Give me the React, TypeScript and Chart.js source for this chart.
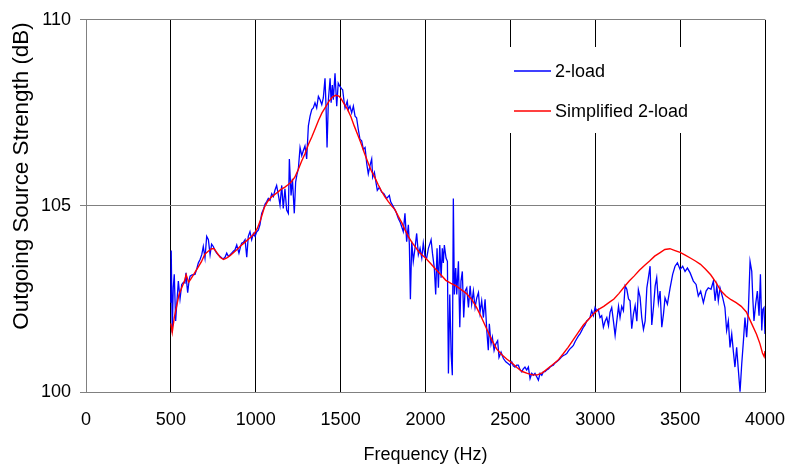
import React, { useEffect, useRef } from "react";
import { Chart, registerables } from "chart.js";

Chart.register(...registerables);

const X_TICKS = [0, 500, 1000, 1500, 2000, 2500, 3000, 3500, 4000];
const Y_TICKS = [100, 105, 110];
const SERIES_NAMES = ["2-load", "Simplified 2-load"];
const X_TITLE = "Frequency (Hz)";
const Y_TITLE = "Outgoing Source Strength (dB)";

// [frequency Hz, dB]
const TWO_LOAD: [number, number][] = [
  [500, 102.4], [502, 103.8], [508, 101.6], [514, 102.8], [520, 103.16], [528, 101.91], [536, 102.45],
  [544, 102.98], [554, 102.5], [564, 102.89], [574, 102.95], [583, 102.93], [589, 103.2], [595, 102.85],
  [599, 102.67], [606, 102.95], [613, 103.11], [625, 103.15], [642, 103.16], [652, 103.3], [662, 103.47],
  [672, 103.56], [682, 103.69], [691, 103.91], [701, 103.6], [711, 104.18], [721, 104.09], [731, 103.69],
  [740, 103.97], [750, 103.91], [760, 103.8], [770, 103.73], [780, 103.68], [790, 103.64], [800, 103.6],
  [809, 103.58], [819, 103.62], [829, 103.73], [839, 103.64], [848, 103.68], [858, 103.73], [868, 103.78],
  [878, 103.82], [888, 103.95], [901, 103.73], [910, 103.9], [917, 104.0], [927, 104.02], [937, 104.09],
  [947, 103.62], [956, 104.18], [966, 104.31], [976, 104.09], [986, 104.26], [996, 104.18], [1005, 104.3],
  [1015, 104.35], [1025, 104.5], [1035, 104.8], [1045, 104.9], [1055, 105.05], [1064, 105.11], [1074, 105.2],
  [1084, 105.15], [1094, 105.33], [1104, 105.25], [1113, 105.42], [1123, 105.55], [1133, 105.3], [1143, 105.02],
  [1153, 105.55], [1162, 104.93], [1172, 105.46], [1182, 104.89], [1192, 104.8], [1198, 106.26], [1208, 105.28],
  [1216, 105.73], [1227, 104.8], [1235, 105.64], [1243, 105.85], [1251, 106.0], [1261, 106.57], [1271, 106.35],
  [1280, 106.48], [1290, 106.61], [1300, 106.26], [1310, 107.15], [1320, 107.41], [1330, 107.59], [1339, 107.63],
  [1349, 107.77], [1359, 107.63], [1369, 107.94], [1379, 107.85], [1389, 107.72], [1398, 107.9], [1408, 108.43],
  [1414, 107.68], [1420, 106.57], [1428, 107.85], [1438, 108.43], [1444, 107.77], [1451, 108.25], [1457, 107.85],
  [1467, 108.56], [1477, 107.68], [1486, 108.3], [1496, 108.21], [1505, 108.15], [1512, 108.12], [1520, 107.81],
  [1526, 107.63], [1539, 107.81], [1545, 107.59], [1555, 107.68], [1565, 107.5], [1575, 107.68], [1585, 107.41],
  [1594, 107.37], [1604, 107.06], [1614, 106.79], [1624, 106.75], [1634, 106.52], [1644, 106.57], [1654, 106.13],
  [1663, 105.86], [1673, 106.08], [1683, 106.26], [1689, 105.77], [1699, 105.9], [1708, 105.64], [1716, 105.42],
  [1728, 105.5], [1742, 105.37], [1755, 105.33], [1771, 105.2], [1787, 105.28], [1795, 105.11], [1810, 104.98],
  [1826, 104.84], [1840, 104.66], [1850, 104.57], [1860, 104.44], [1869, 104.31], [1879, 104.8], [1889, 104.04],
  [1899, 104.49], [1905, 103.95], [1911, 102.49], [1919, 104.04], [1928, 103.51], [1938, 103.86], [1948, 104.26],
  [1958, 103.69], [1968, 103.86], [1978, 103.6], [1987, 104.0], [1997, 103.64], [2007, 103.6], [2017, 103.86],
  [2027, 104.0], [2033, 104.09], [2041, 103.73], [2052, 103.33], [2060, 102.62], [2068, 103.86], [2076, 102.8],
  [2084, 103.95], [2092, 103.07], [2099, 103.86], [2105, 103.47], [2111, 103.95], [2121, 103.6], [2129, 103.51],
  [2135, 100.5], [2143, 102.62], [2151, 101.03], [2158, 100.45], [2164, 105.2], [2170, 102.62], [2178, 103.33],
  [2184, 102.62], [2194, 103.51], [2202, 101.74], [2209, 102.98], [2217, 103.24], [2225, 102.0], [2233, 102.71],
  [2243, 102.8], [2253, 102.27], [2263, 102.85], [2272, 102.36], [2282, 102.71], [2292, 102.27], [2302, 102.53],
  [2312, 102.67], [2321, 102.14], [2331, 102.45], [2341, 102.0], [2351, 102.49], [2361, 101.65], [2370, 101.12],
  [2376, 101.83], [2386, 101.29], [2394, 101.47], [2404, 101.12], [2414, 101.29], [2425, 101.38], [2433, 100.93],
  [2445, 101.07], [2459, 100.9], [2473, 100.81], [2488, 100.76], [2498, 100.72], [2508, 100.81], [2517, 100.7],
  [2527, 100.67], [2537, 100.72], [2547, 100.72], [2557, 100.6], [2567, 100.54], [2576, 100.62], [2586, 100.67],
  [2596, 100.59], [2606, 100.67], [2616, 100.36], [2626, 100.5], [2635, 100.45], [2645, 100.5], [2655, 100.41],
  [2665, 100.32], [2675, 100.5], [2685, 100.45], [2694, 100.54], [2704, 100.55], [2714, 100.59], [2724, 100.62],
  [2734, 100.67], [2743, 100.7], [2753, 100.72], [2763, 100.78], [2773, 100.81], [2783, 100.85], [2793, 100.9],
  [2803, 100.95], [2812, 100.98], [2822, 101.0], [2832, 101.03], [2841, 101.1], [2851, 101.16], [2861, 101.2],
  [2871, 101.25], [2881, 101.35], [2891, 101.43], [2900, 101.5], [2910, 101.56], [2920, 101.65], [2930, 101.74],
  [2940, 101.8], [2950, 101.91], [2960, 101.95], [2969, 102.0], [2979, 102.18], [2989, 102.05], [2999, 102.27],
  [3009, 102.18], [3018, 102.22], [3028, 102.0], [3038, 102.05], [3048, 101.74], [3058, 101.9], [3068, 102.0],
  [3078, 101.78], [3087, 102.14], [3097, 102.27], [3107, 101.91], [3117, 101.52], [3127, 101.91], [3137, 102.3],
  [3146, 102.0], [3156, 102.3], [3166, 102.18], [3176, 102.85], [3186, 102.76], [3196, 102.5], [3205, 102.45],
  [3215, 101.7], [3225, 102.09], [3235, 102.32], [3245, 101.9], [3254, 102.75], [3264, 102.55], [3274, 102.0],
  [3284, 101.68], [3294, 101.91], [3304, 102.8], [3313, 103.07], [3323, 103.38], [3333, 101.8], [3343, 102.27],
  [3353, 102.85], [3362, 103.07], [3372, 102.4], [3382, 102.71], [3392, 101.74], [3402, 102.1], [3411, 102.53],
  [3425, 102.36], [3441, 102.8], [3456, 103.16], [3470, 103.38], [3484, 103.47], [3500, 103.29], [3515, 103.38],
  [3529, 103.24], [3543, 103.33], [3559, 103.2], [3578, 102.98], [3594, 102.89], [3607, 102.58], [3621, 102.71],
  [3637, 102.4], [3653, 102.71], [3666, 102.8], [3682, 102.76], [3696, 102.98], [3706, 102.45], [3716, 102.85],
  [3725, 102.45], [3735, 102.8], [3751, 102.53], [3764, 102.27], [3774, 101.65], [3784, 101.91], [3794, 101.2],
  [3804, 101.56], [3814, 101.07], [3823, 100.67], [3833, 101.2], [3843, 100.59], [3853, 100.01], [3863, 100.76],
  [3873, 101.38], [3882, 102.0], [3892, 101.47], [3902, 102.18], [3912, 103.51], [3922, 103.24], [3928, 102.53],
  [3935, 101.91], [3945, 102.36], [3955, 102.71], [3965, 102.05], [3973, 103.16], [3981, 101.65], [3987, 102.22],
  [3994, 102.27], [4000, 101.56],
];

const SIMPLIFIED: [number, number][] = [
  [500, 101.84], [508, 101.6], [520, 102.0], [534, 102.31], [548, 102.62], [564, 102.8], [580, 102.98],
  [590, 103.15], [605, 102.95], [620, 103.05], [640, 103.2], [660, 103.35], [680, 103.5], [700, 103.7],
  [720, 103.78], [740, 103.85], [755, 103.85], [770, 103.75], [790, 103.62], [810, 103.56], [830, 103.6],
  [850, 103.67], [870, 103.75], [890, 103.83], [910, 103.92], [930, 104.0], [950, 104.08], [970, 104.16],
  [990, 104.25], [1010, 104.4], [1030, 104.65], [1050, 104.95], [1070, 105.12], [1090, 105.23], [1110, 105.3],
  [1130, 105.37], [1150, 105.45], [1170, 105.5], [1190, 105.57], [1210, 105.65], [1230, 105.77], [1250, 105.97],
  [1270, 106.2], [1290, 106.4], [1310, 106.65], [1330, 106.85], [1350, 107.07], [1370, 107.3], [1390, 107.5],
  [1410, 107.65], [1430, 107.8], [1450, 107.92], [1470, 107.97], [1490, 107.95], [1500, 107.9], [1520, 107.75],
  [1540, 107.6], [1560, 107.4], [1580, 107.15], [1600, 106.92], [1620, 106.68], [1640, 106.42], [1660, 106.18],
  [1680, 105.95], [1700, 105.78], [1720, 105.58], [1740, 105.4], [1760, 105.25], [1780, 105.12], [1800, 105.0],
  [1820, 104.9], [1840, 104.72], [1860, 104.55], [1880, 104.35], [1900, 104.17], [1920, 104.02], [1940, 103.9],
  [1960, 103.77], [1980, 103.68], [2000, 103.6], [2030, 103.45], [2060, 103.3], [2090, 103.15], [2120, 103.0],
  [2150, 102.92], [2180, 102.85], [2210, 102.75], [2240, 102.65], [2270, 102.5], [2300, 102.28], [2330, 102.0],
  [2360, 101.7], [2390, 101.4], [2420, 101.15], [2450, 101.0], [2480, 100.88], [2510, 100.78], [2540, 100.65],
  [2570, 100.55], [2600, 100.5], [2630, 100.46], [2660, 100.46], [2690, 100.52], [2720, 100.63], [2750, 100.74],
  [2780, 100.85], [2810, 101.02], [2840, 101.2], [2870, 101.4], [2900, 101.6], [2930, 101.8], [2960, 101.95],
  [2990, 102.1], [3020, 102.22], [3050, 102.3], [3080, 102.4], [3110, 102.5], [3140, 102.65], [3170, 102.82],
  [3200, 102.98], [3230, 103.12], [3260, 103.27], [3290, 103.4], [3320, 103.52], [3350, 103.65], [3380, 103.74],
  [3410, 103.83], [3440, 103.85], [3470, 103.8], [3500, 103.75], [3530, 103.68], [3560, 103.6], [3590, 103.52],
  [3620, 103.43], [3650, 103.3], [3680, 103.15], [3710, 102.95], [3740, 102.72], [3770, 102.58], [3800, 102.48],
  [3830, 102.4], [3860, 102.3], [3890, 102.15], [3920, 101.85], [3950, 101.55], [3970, 101.3], [3985, 101.05],
  [3995, 100.95], [4000, 101.1],
];

const COLORS = ["#0000FF", "#FF0000"];
const FONT = "'Liberation Sans', Arial, sans-serif";

export default function App() {
  const ref = useRef<HTMLCanvasElement>(null);

  useEffect(() => {
    document.body.style.margin = "0";
    const canvas = ref.current;
    if (!canvas) return;

    const overlay = {
      id: "overlay",
      afterDraw(chart: any) {
        const ctx = chart.ctx as CanvasRenderingContext2D;
        const area = chart.chartArea;
        ctx.save();
        // y axis title
        ctx.fillStyle = "#000";
        ctx.font = `22.4px ${FONT}`;
        ctx.textAlign = "center";
        ctx.textBaseline = "middle";
        ctx.translate(22, 176);
        ctx.rotate(-Math.PI / 2);
        ctx.fillText(Y_TITLE, 0, 0);
        ctx.restore();

        ctx.save();
        ctx.fillStyle = "#000";
        ctx.font = `18px ${FONT}`;
        ctx.textAlign = "center";
        ctx.textBaseline = "middle";
        ctx.fillText(X_TITLE, (area.left + area.right) / 2, 455);
        ctx.restore();

        // legend
        ctx.save();
        ctx.fillStyle = "#FFFFFF";
        ctx.fillRect(505, 47, 196, 86);
        ctx.font = `18px ${FONT}`;
        ctx.textAlign = "left";
        ctx.textBaseline = "middle";
        const rows = [71, 111];
        SERIES_NAMES.forEach((name, i) => {
          ctx.strokeStyle = COLORS[i];
          ctx.lineWidth = 1.3;
          ctx.beginPath();
          ctx.moveTo(514, rows[i]);
          ctx.lineTo(551, rows[i]);
          ctx.stroke();
          ctx.fillStyle = "#000";
          ctx.fillText(name, 555, rows[i] + 1);
        });
        ctx.restore();
      },
    };

    const chart = new Chart(canvas, {
      type: "line",
      data: {
        datasets: [
          {
            label: SERIES_NAMES[0],
            data: TWO_LOAD.map(([x, y]) => ({ x, y })),
            borderColor: COLORS[0],
            borderWidth: 1.3,
            pointRadius: 0,
            tension: 0,
            order: 2,
          },
          {
            label: SERIES_NAMES[1],
            data: SIMPLIFIED.map(([x, y]) => ({ x, y })),
            borderColor: COLORS[1],
            borderWidth: 1.4,
            pointRadius: 0,
            tension: 0,
            order: 1,
          },
        ],
      },
      options: {
        responsive: false,
        animation: false,
        devicePixelRatio: 1,
        layout: { padding: { left: 0, right: 0, top: 16, bottom: 0 } },
        plugins: { legend: { display: false }, tooltip: { enabled: false } },
        scales: {
          x: {
            type: "linear",
            min: X_TICKS[0],
            max: X_TICKS[X_TICKS.length - 1],
            afterBuildTicks: (scale: any) => {
              scale.ticks = X_TICKS.map((v) => ({ value: v }));
            },
            afterFit: (scale: any) => {
              scale.height = 75;
              scale.paddingRight = 20;
              scale.paddingLeft = 0;
            },
            grid: {
              color: (c: any) => (c.tick && c.tick.value === 0 ? "#808080" : "#000000"),
              lineWidth: 1,
              drawTicks: false,
            },
            border: { display: true, color: "#808080", width: 1 },
            ticks: {
              color: "#000",
              font: { family: FONT, size: 18 },
              padding: 17,
              maxRotation: 0,
              autoSkip: false,
              callback: (v: any) => String(v),
            },
          },
          y: {
            type: "linear",
            min: Y_TICKS[0],
            max: Y_TICKS[Y_TICKS.length - 1],
            afterBuildTicks: (scale: any) => {
              scale.ticks = Y_TICKS.map((v) => ({ value: v }));
            },
            afterFit: (scale: any) => {
              scale.width = 86;
            },
            grid: {
              color: "#808080",
              lineWidth: 1,
              drawTicks: true,
              tickLength: 6,
            },
            border: { display: true, color: "#808080", width: 1 },
            ticks: {
              color: "#000",
              font: { family: FONT, size: 18 },
              padding: 9,
              autoSkip: false,
              callback: (v: any) => String(v),
            },
          },
        },
      },
      plugins: [overlay],
    } as any);

    return () => chart.destroy();
  }, []);

  return (
    <canvas
      ref={ref}
      width={785}
      height={467}
      style={{ display: "block", width: "785px", height: "467px" }}
    />
  );
}
